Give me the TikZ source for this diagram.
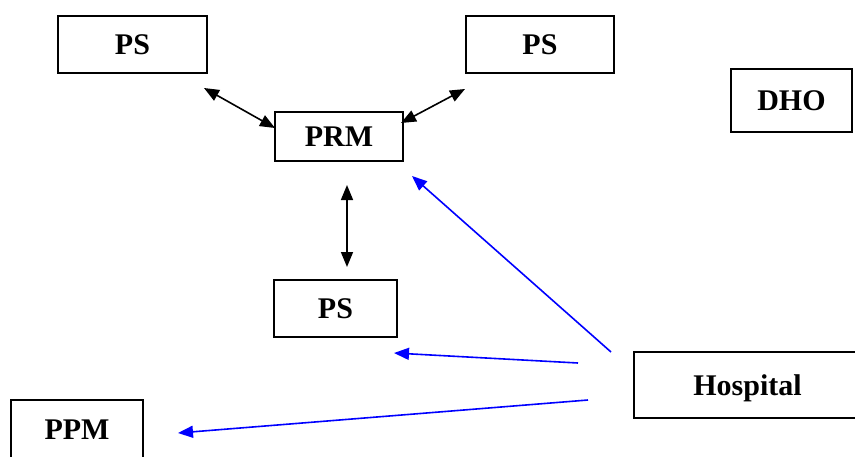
\documentclass[tikz,border=0pt]{standalone}
\usepackage{fontspec}
\setmainfont{Liberation Serif}
\usetikzlibrary{arrows.meta}
\tikzset{
  box/.style={draw=black, line width=1.9pt, rectangle, inner sep=0pt, text depth=0pt,
    font=\fontsize{30}{36}\selectfont\bfseries},
  biarrow/.style={line width=1.6pt, {Triangle[length=15pt,width=12pt]}-{Triangle[length=15pt,width=12pt]}},
  bluearrow/.style={draw=blue, line width=1.6pt, -{Triangle[length=15pt,width=12pt]}}
}
\begin{document}
\begin{tikzpicture}[x=1pt,y=-1pt]
\useasboundingbox (0,0) rectangle (855,456);
\fill[white] (0,0) rectangle (855,456);
% boxes
\node[box, minimum width=149pt, minimum height=57pt] (ps1) at (132.5,44.5) {PS};
\node[box, minimum width=148pt, minimum height=57pt] (ps2) at (540,44.5) {PS};
\node[box, minimum width=121pt, minimum height=63pt] (dho) at (791.5,100.5) {DHO};
\node[box, minimum width=128pt, minimum height=49pt] (prm) at (339,136.5) {PRM};
\node[box, minimum width=123pt, minimum height=57pt] (ps3) at (335.5,308.5) {PS};
\node[box, minimum width=227pt, minimum height=66pt] (hosp) at (747.5,385) {Hospital};
\node[box, minimum width=132pt, minimum height=59pt] (ppm) at (77,429.5) {PPM};
% connector end points
\coordinate (a1) at (204,88);
\coordinate (a2) at (275,128);
\coordinate (b1) at (465,89);
\coordinate (b2) at (401,123);
\coordinate (c1) at (347,185);
\coordinate (c2) at (347,267);
\coordinate (h1) at (611,352);
\coordinate (h1t) at (412,176);
\coordinate (h2) at (578,363);
\coordinate (h2t) at (394,353);
\coordinate (h3) at (588,400);
\coordinate (h3t) at (178,433);
% connectors
\draw[biarrow] (a1) -- (a2);
\draw[biarrow] (b1) -- (b2);
\draw[biarrow] (c1) -- (c2);
\draw[bluearrow] (h1) -- (h1t);
\draw[bluearrow] (h2) -- (h2t);
\draw[bluearrow] (h3) -- (h3t);
\end{tikzpicture}
\end{document}
